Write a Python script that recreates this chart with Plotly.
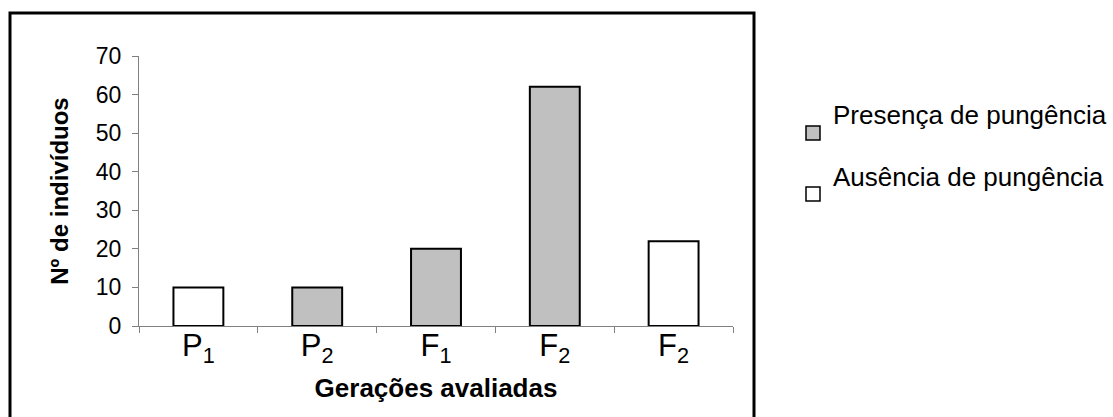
import plotly.graph_objects as go

# Generations evaluated (one bar per generation / phenotype class)
geracoes = ["P<sub>1</sub>", "P<sub>2</sub>", "F<sub>1</sub>", "F<sub>2</sub>", "F<sub>2</sub>"]
pos_presenca = [1, 2, 3]
val_presenca = [10, 20, 62]
pos_ausencia = [0, 4]
val_ausencia = [10, 22]

y_ticks = [0, 10, 20, 30, 40, 50, 60, 70]

W, H = 1113, 417
ML, MR, MT, MB = 139, 380, 56, 91
PW, PH = W - ML - MR, H - MT - MB
FONT = "Arial, Liberation Sans, sans-serif"


def px(x):
    return (x - ML) / PW


def py(y):
    return (H - MB - y) / PH


fig = go.Figure()
fig.add_bar(x=pos_ausencia, y=val_ausencia, width=0.42, name="Ausência de pungência",
            marker=dict(color="white", line=dict(color="black", width=2)), showlegend=False)
fig.add_bar(x=pos_presenca, y=val_presenca, width=0.42, name="Presença de pungência",
            marker=dict(color="#C0C0C0", line=dict(color="black", width=2)), showlegend=False)

shapes = [
    # outer frame of the chart area
    dict(type="rect", xref="paper", yref="paper", x0=px(10), x1=px(754), y0=py(440), y1=py(13),
         line=dict(color="black", width=3), fillcolor="rgba(0,0,0,0)", layer="above"),
    # legend keys
    dict(type="rect", xref="paper", yref="paper", x0=px(806), x1=px(820), y0=py(140), y1=py(126),
         line=dict(color="black", width=1.5), fillcolor="#C0C0C0"),
    dict(type="rect", xref="paper", yref="paper", x0=px(806), x1=px(820), y0=py(201), y1=py(187),
         line=dict(color="black", width=1.5), fillcolor="white"),
]
annotations = [
    dict(text="Presença de pungência", xref="paper", yref="paper", x=px(831), y=py(115),
         xanchor="left", yanchor="middle", showarrow=False, font=dict(family=FONT, size=26, color="black")),
    dict(text="Ausência de pungência", xref="paper", yref="paper", x=px(831), y=py(177),
         xanchor="left", yanchor="middle", showarrow=False, font=dict(family=FONT, size=26, color="black")),
]

fig.update_layout(
    width=W, height=H,
    margin=dict(l=ML, r=MR, t=MT, b=MB),
    barmode="overlay",
    paper_bgcolor="white", plot_bgcolor="white",
    font=dict(family=FONT, color="black"),
    shapes=shapes, annotations=annotations,
    showlegend=False,
)
fig.update_xaxes(
    range=[-0.5, 4.5], tickmode="array", tickvals=list(range(len(geracoes))), ticktext=geracoes,
    ticks="", tickfont=dict(size=31), ticklabelstandoff=-8,
    showline=True, linecolor="#808080", linewidth=1, showgrid=False, zeroline=False,
    minor=dict(tickmode="array", tickvals=[i - 0.5 for i in range(len(geracoes) + 1)],
               ticks="outside", ticklen=6, tickcolor="#808080", showgrid=False),
    title=dict(text="<b>Gerações avaliadas</b>", font=dict(size=26), standoff=12),
)
fig.update_yaxes(
    range=[0, 70], tickmode="array", tickvals=y_ticks,
    ticks="outside", ticklen=6, tickcolor="#808080", tickfont=dict(size=23), ticklabelstandoff=6,
    showline=True, linecolor="#808080", linewidth=1, showgrid=False, zeroline=False,
    title=dict(text="<b>Nº de indivíduos</b>", font=dict(size=24), standoff=20),
)

fig.write_html("out.html")
